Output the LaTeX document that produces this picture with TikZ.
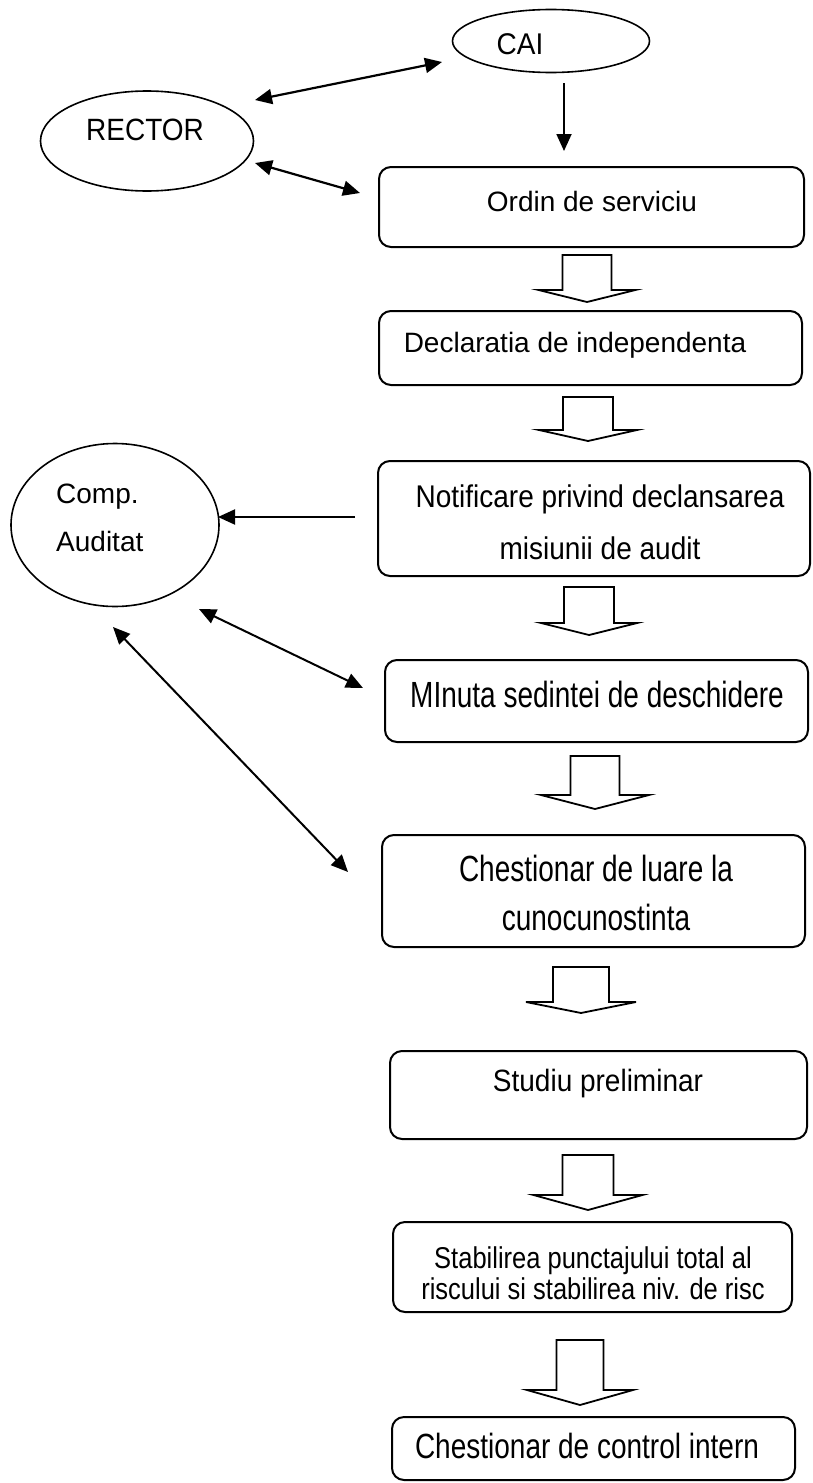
\documentclass[tikz,border=0pt]{standalone}
\usepackage{fontspec}
\setmainfont{Liberation Sans}
\usetikzlibrary{arrows.meta,shapes.geometric}
\newcommand\blockarr[6]{%
  \draw[barrow] (#1-#5,#2) -- (#1-#5,#3) -- (#1-#6,#3) -- (#1,#4) -- (#1+#6,#3) -- (#1+#5,#3) -- (#1+#5,#2) -- cycle;}
\newcommand\tall[2]{\scalebox{1}[#1]{#2}}
\begin{document}
\begin{tikzpicture}[x=1pt,y=-1pt,
  box/.style={draw, line width=2pt, rounded corners=12pt, inner sep=0pt},
  oval/.style={draw, ellipse, line width=1.6pt, inner sep=0pt},
  lbl/.style={inner sep=0pt, font=\fontsize{28}{34}\selectfont},
  conn/.style={line width=2.2pt, -{Triangle[length=17pt,width=15pt]}},
  both/.style={line width=2.2pt, {Triangle[length=17pt,width=15pt]}-{Triangle[length=17pt,width=15pt]}},
  barrow/.style={draw, line width=1.8pt, line join=miter}]
\useasboundingbox (0,0) rectangle (813,1483);

% ellipses
\node[oval, minimum width=197pt, minimum height=63pt] (cai) at (551,41) {};
\node[lbl] (caiT) at (520,44) {\tall{1.07}{CAI}};
\node[oval, minimum width=213pt, minimum height=100pt] (rector) at (147,141) {};
\node[lbl] (rectorT) at (145,130) {\tall{1.1}{RECTOR}};
\node[oval, minimum width=208pt, minimum height=163pt] (comp) at (115,525) {};
\node[lbl, anchor=west, align=left, font=\fontsize{28}{48}\selectfont] (compT) at (56,518) {Comp.\\Auditat};

% boxes
\node[box, minimum width=425pt, minimum height=80pt] (ordin) at (591.5,207) {};
\node[lbl] (ordinT) at (592,201) {Ordin de serviciu};
\node[box, minimum width=423pt, minimum height=74pt] (decl) at (590.5,348) {};
\node[lbl] (declT) at (575,345) {Declaratia de independenta};
\node[box, minimum width=432pt, minimum height=115pt] (notif) at (594,518.5) {};
\node[lbl, align=center, font=\fontsize{28}{52}\selectfont] (notifT) at (600,522) {\tall{1.12}{Notificare privind declansarea}\\\tall{1.12}{misiunii de audit}};
\node[box, minimum width=423pt, minimum height=82pt] (minuta) at (596.5,701) {};
\node[lbl] (minutaT) at (597,694) {\tall{1.3}{MInuta sedintei de deschidere}};
\node[box, minimum width=423pt, minimum height=112pt] (chest) at (593.5,891) {};
\node[lbl, align=center, font=\fontsize{28}{49}\selectfont] (chestT) at (596,893) {\tall{1.3}{Chestionar de luare la}\\\tall{1.3}{cunocunostinta}};
\node[box, minimum width=417pt, minimum height=88pt] (studiu) at (598.5,1095) {};
\node[lbl] (studiuT) at (598,1084) {\tall{1.1}{Studiu preliminar}};
\node[box, minimum width=399pt, minimum height=90pt] (stab) at (592.5,1267) {};
\node[lbl, align=center, font=\fontsize{25.5}{31}\selectfont] (stabT) at (593,1273) {\tall{1.18}{Stabilirea punctajului total al}\\\tall{1.18}{riscului si stabilirea niv. de risc}};
\node[box, minimum width=403pt, minimum height=63pt] (last) at (593.5,1448.5) {};
\node[lbl] (lastT) at (587,1446) {\tall{1.25}{Chestionar de control intern}};

% connector end points
\coordinate (rc1) at (255,100);
\coordinate (rc2) at (442,62);
\coordinate (ro1) at (255,163);
\coordinate (ro2) at (360,193);
\coordinate (co1) at (564,83);
\coordinate (co2) at (564,151);
\coordinate (nc1) at (355,517);
\coordinate (nc2) at (218,517);
\coordinate (cm1) at (199,609);
\coordinate (cm2) at (363,688);
\coordinate (cc1) at (113,627);
\coordinate (cc2) at (348,872);

\draw[both] (rc1) -- (rc2);
\draw[both] (ro1) -- (ro2);
\draw[conn, line width=1.8pt] (co1) -- (co2);
\draw[conn, line width=2pt] (nc1) -- (nc2);
\draw[both, line width=2pt] (cm1) -- (cm2);
\draw[both, line width=2pt] (cc1) -- (cc2);

% block arrows between boxes
\blockarr{587}{255}{290}{302}{24.5}{48.5}
\blockarr{588}{397}{430}{441}{25}{49}
\blockarr{589}{587}{623}{635}{25}{48}
\blockarr{595}{756}{795}{809}{24.5}{54}
\blockarr{581}{967}{1002}{1013}{28}{55}
\blockarr{588}{1155}{1195}{1210}{25.5}{54.5}
\blockarr{580}{1340}{1390}{1405}{23.5}{53}
\end{tikzpicture}
\end{document}
